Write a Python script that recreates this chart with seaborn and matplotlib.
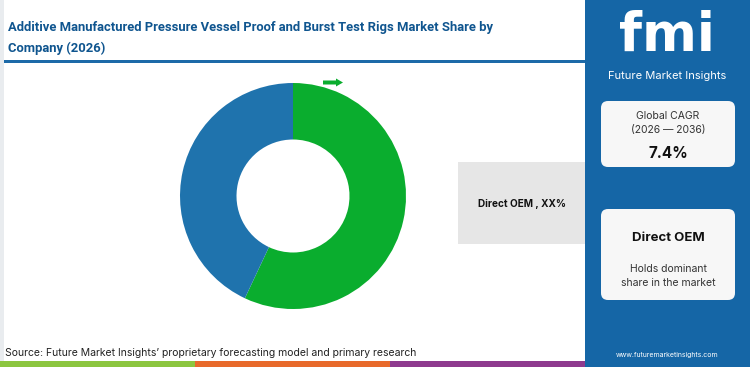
import matplotlib
matplotlib.use("Agg")
import matplotlib.pyplot as plt
import seaborn as sns
from matplotlib.patches import Rectangle, FancyBboxPatch, FancyArrow

sns.set_theme(style="white")
plt.rcParams['font.family'] = ['Inter', 'DejaVu Sans']

# data
segments = ["Direct OEM", "Others"]
shares = [57, 43]
seg_colors = ["#0aad2e", "#1f73ad"]
title = "Additive Manufactured Pressure Vessel Proof and Burst Test Rigs Market Share by\nCompany (2026)"
callout = "Direct OEM , XX%"
cagr_label = "Global CAGR\n(2026 \u2014 2036)"
cagr_value = "7.4%"
lead_segment = "Direct OEM"
lead_note = "Holds dominant\nshare in the market"
source = "Source: Future Market Insights\u2019 proprietary forecasting model and primary research"

W, H = 750, 367
fig = plt.figure(figsize=(7.5, 3.67), dpi=100)
fig.patch.set_facecolor("white")

# background layer in pixel coordinates
bg = fig.add_axes([0, 0, 1, 1])
bg.set_xlim(0, W)
bg.set_ylim(H, 0)
bg.axis("off")

bg.add_patch(Rectangle((0, 0), 4, H, color="#e9ecef", lw=0))
bg.add_patch(Rectangle((4, 60), 581, 3, color="#1d6aa8", lw=0))
bg.add_patch(Rectangle((585, 0), 165, H, color="#1566a6", lw=0))
bg.add_patch(Rectangle((0, 361), 195, 6, color="#8cc63f", lw=0))
bg.add_patch(Rectangle((195, 361), 195, 6, color="#e8692a", lw=0))
bg.add_patch(Rectangle((390, 361), 195, 6, color="#8e3a8e", lw=0))

bg.text(8, 38, title, fontsize=9.4, fontweight="bold", color="#0f558f",
        va="center", ha="left", linespacing=1.85, family="Roboto")

# callout box
bg.add_patch(Rectangle((458, 162), 127, 82, color="#e6e6e6", lw=0))
bg.text(522, 204, callout, fontsize=7.2, fontweight="bold", color="#111111",
        ha="center", va="center")

# small arrow above the donut
bg.add_patch(FancyArrow(323, 82.5, 13, 0, width=4, head_width=8, head_length=7,
                        color="#0aad2e", lw=0, length_includes_head=False))

bg.text(5, 353, source, fontsize=7.5, color="#222222", ha="left", va="center")

# right panel
bg.text(667, 36, "fmi", fontsize=38, fontweight="bold", color="white",
        ha="center", va="center", family="DejaVu Sans")
bg.text(667, 76, "Future Market Insights", fontsize=8, color="white",
        ha="center", va="center")
bg.add_patch(FancyBboxPatch((601, 101), 134, 66, boxstyle="round,pad=0,rounding_size=7",
                            fc="#f7f7f7", ec="none"))
bg.text(668, 123, cagr_label, fontsize=7.5, color="#333333", ha="center",
        va="center", linespacing=1.5)
bg.text(668, 153, cagr_value, fontsize=11, fontweight="bold", color="#111111",
        ha="center", va="center")
bg.add_patch(FancyBboxPatch((601, 209), 134, 91, boxstyle="round,pad=0,rounding_size=7",
                            fc="#f7f7f7", ec="none"))
bg.text(668, 238, lead_segment, fontsize=9.5, fontweight="bold", color="#111111",
        ha="center", va="center")
bg.text(668, 276, lead_note, fontsize=7.5, color="#333333", ha="center",
        va="center", linespacing=1.5)
bg.text(667, 355, "www.futuremarketinsights.com", fontsize=5, color="white",
        ha="center", va="center")

# donut
cx, cy, r = 293, 196, 113
ax = fig.add_axes([(cx - r) / W, 1 - (cy + r) / H, 2 * r / W, 2 * r / H])
ax.pie(shares, colors=seg_colors, startangle=90, counterclock=False,
       wedgeprops=dict(width=0.5, linewidth=0), radius=1)
ax.set_xlim(-1, 1)
ax.set_ylim(-1, 1)
ax.set_aspect("equal")
ax.axis("off")

fig.savefig("out.png", dpi=100)
